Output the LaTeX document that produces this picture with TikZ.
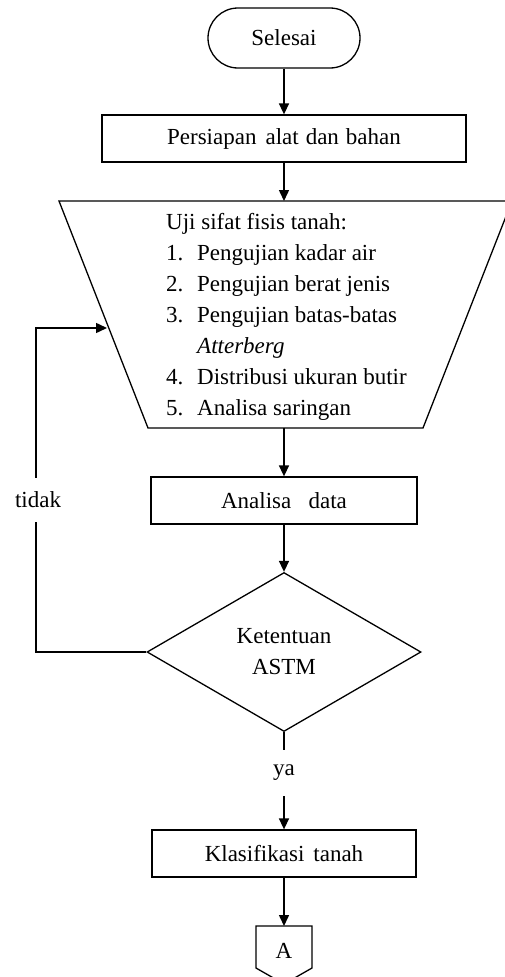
\documentclass[tikz,border=0pt]{standalone}
\usepackage{fontspec}
\setmainfont{Liberation Serif}
\usetikzlibrary{arrows.meta,shapes.geometric}
\begin{document}
\begin{tikzpicture}[x=1pt,y=-1pt,
  every node/.style={font=\fontsize{23}{31}\selectfont},
  shapeline/.style={draw,line width=1.3pt},
  box/.style={shapeline,minimum height=47pt,inner sep=0pt},
  arr/.style={line width=1.5pt,-{Triangle[length=11pt,width=10pt]}},
  lbl/.style={fill=white,inner sep=0pt}]
\useasboundingbox (0,0) rectangle (505,977);
% nodes
\node[shapeline,rounded corners=30pt,minimum width=152pt,minimum height=60pt,inner sep=0pt] (start) at (284,38) {Selesai};
\node[box,minimum width=364pt] (prep) at (284,138.5) {Persiapan\hspace{9pt}alat\hspace{7pt}dan\hspace{7pt}bahan};
\draw[line width=1.3pt] (59,201) -- (512,201) -- (423,428) -- (148,428) -- cycle;
\coordinate (tzTop) at (284,201);
\coordinate (tzBot) at (284,428);
\coordinate (tzIn) at (107,328);
\node[anchor=west,align=left,inner sep=0pt] (tests) at (166,317) {Uji sifat fisis tanah:\\
\makebox[31pt][l]{1.}Pengujian kadar air\\
\makebox[31pt][l]{2.}Pengujian berat jenis\\
\makebox[31pt][l]{3.}Pengujian batas-batas\\
\makebox[31pt][l]{}\textit{Atterberg}\\
\makebox[31pt][l]{4.}Distribusi ukuran butir\\
\makebox[31pt][l]{5.}Analisa saringan};
\node[box,minimum width=266pt] (anal) at (284,500.5) {Analisa~~ data};
\node[shapeline,diamond,minimum width=274pt,minimum height=159pt,inner sep=0pt,align=center] (dec) at (284,652) {Ketentuan\\ASTM};
\node[box,minimum width=264pt] (klas) at (284,853.5) {Klasifikasi\hspace{9pt}tanah};
\draw[line width=1.3pt] (256,926) -- (312,926) -- (312,968) -- (284,984) -- (256,968) -- cycle;
\coordinate (offTop) at (284,926);
\node (A) at (284,951) {A};
% connectors
\draw[arr] (start) -- (prep);
\draw[arr] (prep) -- (tzTop);
\draw[arr] (tzBot) -- (anal);
\draw[arr] (anal) -- (dec);
\draw[arr] (dec) -- (klas);
\draw[arr] (klas) -- (offTop);
\coordinate (c1) at (36,652);
\coordinate (c2) at (36,328);
\draw[arr] (dec.west) -- (c1) -- (c2) -- (tzIn);
\node[lbl,minimum width=76pt,minimum height=44pt] (tidak) at (38,500) {tidak};
\node[lbl,minimum width=92pt,minimum height=46pt] (ya) at (284,773) {ya};
\end{tikzpicture}
\end{document}
